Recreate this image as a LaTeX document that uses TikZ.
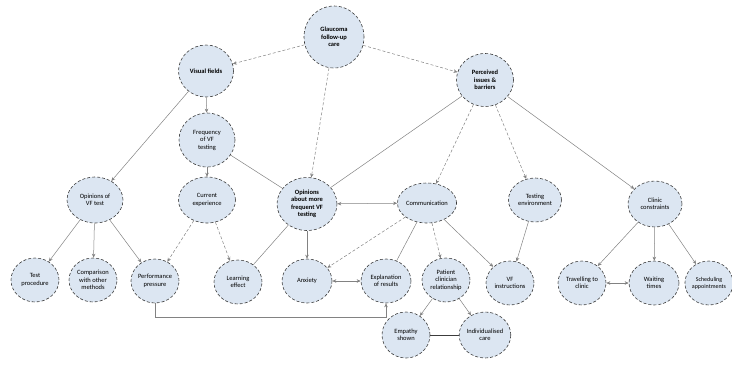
\documentclass[tikz,border=0pt]{standalone}
\usepackage{fontspec}
\setmainfont{Carlito}
\usetikzlibrary{shapes.geometric,arrows.meta}
\definecolor{bubble}{RGB}{220,230,242}
\definecolor{rim}{RGB}{60,60,60}
\definecolor{link}{RGB}{130,130,130}

\begin{document}
\begin{tikzpicture}[x=1pt,y=-1pt,
  topic/.style={ellipse,draw=rim,densely dashed,line width=0.6pt,fill=bubble,inner sep=0pt,
    minimum width=48,minimum height=44,align=center,font=\fontsize{6.5}{7.5}\selectfont},
  main/.style={topic,font=\fontsize{6.5}{7.5}\selectfont\bfseries},
  link/.style={draw=link,line width=0.5pt,-{Stealth[length=4pt,width=3.5pt]}},
  dlink/.style={link,densely dashed},
  plain/.style={draw=link,line width=0.5pt}]
\useasboundingbox (0,0) rectangle (732,376);

\node[main,minimum width=60,minimum height=62] (care) at (334,37) {Glaucoma\\follow-up\\care};
\node[main,minimum width=55,minimum height=52] (fields) at (206,71) {Visual fields};
\node[topic,minimum width=56,minimum height=54] (freq) at (207,140) {Frequency\\of VF\\testing};
\node[main,minimum width=57,minimum height=53] (issues) at (485,80) {Perceived\\issues \&\\barriers};

\node[topic,minimum width=56,minimum height=46] (optest) at (95,200) {Opinions of\\VF test};
\node[topic,minimum width=57,minimum height=46] (current) at (207,200) {Current\\experience};
\node[main,minimum width=60,minimum height=53] (opmore) at (307,204) {Opinions\\about more\\frequent VF\\testing};
\node[topic,minimum width=57,minimum height=40] (comm) at (427,203) {Communication};
\node[topic,minimum width=53,minimum height=44] (env) at (535,200) {Testing\\environment};
\node[topic,minimum width=54,minimum height=46] (clinic) at (655,204) {Clinic\\constraints};

\node[topic] (proc) at (35,280) {Test\\procedure};
\node[topic] (compare) at (93,280) {Comparison\\with other\\methods};
\node[topic] (pressure) at (155,281) {Performance\\pressure};
\node[topic] (learn) at (238,282) {Learning\\effect};
\node[topic,minimum width=50] (anxiety) at (307,281) {Anxiety};
\node[topic,minimum width=50] (explain) at (386,281) {Explanation\\of results};
\node[topic] (relation) at (446,280) {Patient\\clinician\\relationship};
\node[topic] (instruct) at (510,283) {VF\\instructions};
\node[topic] (travel) at (582,283) {Travelling to\\clinic};
\node[topic,minimum width=50] (waiting) at (654,283) {Waiting\\times};
\node[topic,minimum width=44,font=\fontsize{6}{7}\selectfont] (schedule) at (709,283) {Scheduling\\appointments};

\node[topic,minimum height=46] (empathy) at (406,335) {Empathy\\shown};
\node[topic,minimum height=46] (individual) at (485,335) {Individualised\\care};

\foreach \a/\b in {care/fields,care/issues,care/opmore,issues/comm,issues/env,current/pressure,current/learn,comm/anxiety,comm/relation}
  \draw[dlink] (\a) -- (\b);
\foreach \a/\b in {fields/freq,fields/optest,freq/current,issues/clinic,optest/proc,optest/compare,optest/pressure,opmore/anxiety,comm/instruct,env/instruct,relation/empathy,relation/individual,clinic/travel,clinic/waiting,clinic/schedule}
  \draw[link] (\a) -- (\b);
\foreach \a/\b in {freq/opmore,issues/opmore,opmore/learn,comm/explain}
  \draw[plain] (\a) -- (\b);
\foreach \a/\b in {comm/opmore,anxiety/explain,travel/waiting}
  \draw[link,{Stealth[length=4pt,width=3.5pt]}-{Stealth[length=4pt,width=3.5pt]}] (\a) -- (\b);
\draw[draw=rim,line width=0.7pt] (empathy) -- (individual);
\draw[link] (pressure.south) |- (386,317) -- (explain.south);
\end{tikzpicture}
\end{document}
